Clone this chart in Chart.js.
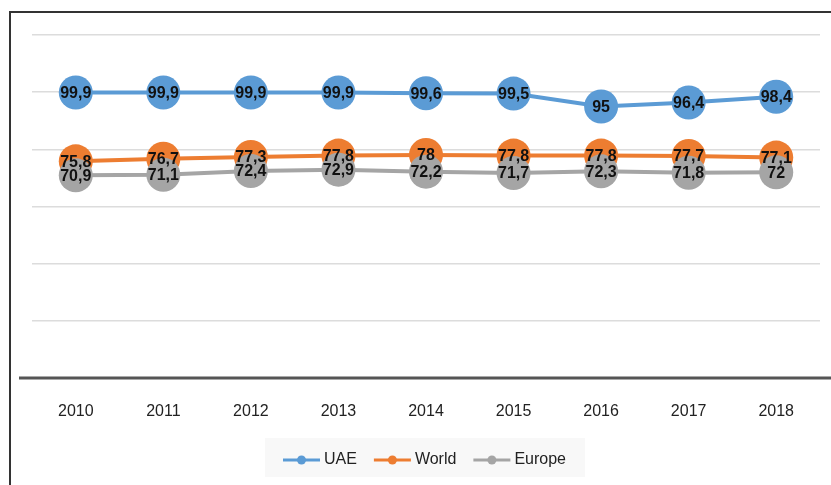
<!DOCTYPE html>
<html>
<head>
<meta charset="utf-8">
<script src="https://cdn.jsdelivr.net/npm/chart.js@4.4.1/dist/chart.umd.min.js"></script>
<style>
  html, body { margin: 0; padding: 0; background: #fff; overflow: hidden; }
  #wrap { position: absolute; left: 0; top: 0; width: 831px; height: 485px; }
  #frame { position: absolute; left: 9px; top: 11px; width: 900px; height: 600px;
           border-left: 2px solid #333; border-top: 2px solid #333; pointer-events: none; }
</style>
</head>
<body>
<div id="wrap"><canvas id="chart"></canvas></div>
<div id="frame"></div>
<script>
// data
const years = ['2010', '2011', '2012', '2013', '2014', '2015', '2016', '2017', '2018'];
const uae = [99.9, 99.9, 99.9, 99.9, 99.6, 99.5, 95, 96.4, 98.4];
const world = [75.8, 76.7, 77.3, 77.8, 78, 77.8, 77.8, 77.7, 77.1];
const europe = [70.9, 71.1, 72.4, 72.9, 72.2, 71.7, 72.3, 71.8, 72];
const seriesNames = ['UAE', 'World', 'Europe'];
const seriesColors = ['#5B9BD5', '#ED7D31', '#A5A5A5'];

const FONT = '"Liberation Sans", Arial, sans-serif';

// values written on the points, with a comma as decimal mark
const valueLabels = {
  id: 'valueLabels',
  afterDatasetsDraw(chart) {
    const ctx = chart.ctx;
    ctx.save();
    ctx.font = 'bold 16px ' + FONT;
    ctx.fillStyle = '#111';
    ctx.textAlign = 'center';
    ctx.textBaseline = 'middle';
    chart.data.datasets.forEach((ds, i) => {
      chart.getDatasetMeta(i).data.forEach((pt, j) => {
        ctx.fillText(String(ds.data[j]).replace('.', ','), pt.x, pt.y + 1);
      });
    });
    ctx.restore();
  }
};

// dark base line, and the legend in its grey panel
const decor = {
  id: 'decor',
  afterDatasetsDraw(chart) {
    const ctx = chart.ctx;
    const y = chart.scales.y.getPixelForValue(0);
    ctx.save();
    ctx.strokeStyle = '#555';
    ctx.lineWidth = 3;
    ctx.beginPath(); ctx.moveTo(19, y); ctx.lineTo(chart.width, y); ctx.stroke();
    ctx.restore();
  },
  afterDraw(chart) {
    const ctx = chart.ctx;
    ctx.save();
    ctx.fillStyle = '#f8f8f8';
    ctx.fillRect(265, 438, 320, 39);
    ctx.font = '16px ' + FONT;
    ctx.textBaseline = 'middle';
    let x = 283;
    const cy = 460;
    chart.data.datasets.forEach((ds, i) => {
      ctx.strokeStyle = seriesColors[i];
      ctx.fillStyle = seriesColors[i];
      ctx.lineWidth = 3;
      ctx.beginPath(); ctx.moveTo(x, cy); ctx.lineTo(x + 37, cy); ctx.stroke();
      ctx.beginPath(); ctx.arc(x + 18.5, cy, 4.5, 0, Math.PI * 2); ctx.fill();
      ctx.fillStyle = '#222';
      ctx.fillText(ds.label, x + 41, cy);
      x += 41 + ctx.measureText(ds.label).width + 17;
    });
    ctx.restore();
  }
};

const datasets = [uae, world, europe].map((vals, i) => ({
  label: seriesNames[i],
  data: vals,
  borderColor: seriesColors[i],
  backgroundColor: seriesColors[i],
  borderWidth: 4,
  pointRadius: 17,
  pointHoverRadius: 17,
  pointBorderWidth: 0,
  tension: 0,
  order: [2, 1, 0][i]
}));

new Chart(document.getElementById('chart'), {
  type: 'line',
  data: { labels: years, datasets: datasets },
  options: {
    responsive: true,
    maintainAspectRatio: false,
    animation: false,
    layout: { autoPadding: false, padding: { left: 32, right: 11, top: 35, bottom: 43 } },
    scales: {
      x: {
        offset: true,
        grid: { display: false, drawTicks: false },
        border: { display: false },
        ticks: {
          padding: 24,
          color: '#222',
          font: { family: FONT, size: 16 }
        },
        afterFit(scale) {
          scale.height = 64;
          scale.paddingLeft = 0;
          scale.paddingRight = 0;
        }
      },
      y: {
        min: 0,
        max: 120,
        ticks: { stepSize: 20, display: false },
        border: { display: false },
        grid: {
          drawTicks: false,
          lineWidth: 1.5,
          color: c => (c.tick.value === 0 ? 'rgba(0,0,0,0)' : '#dcdcdc')
        }
      }
    },
    plugins: {
      tooltip: { enabled: false },
      legend: { display: false }
    }
  },
  plugins: [valueLabels, decor]
});
</script>
</body>
</html>
